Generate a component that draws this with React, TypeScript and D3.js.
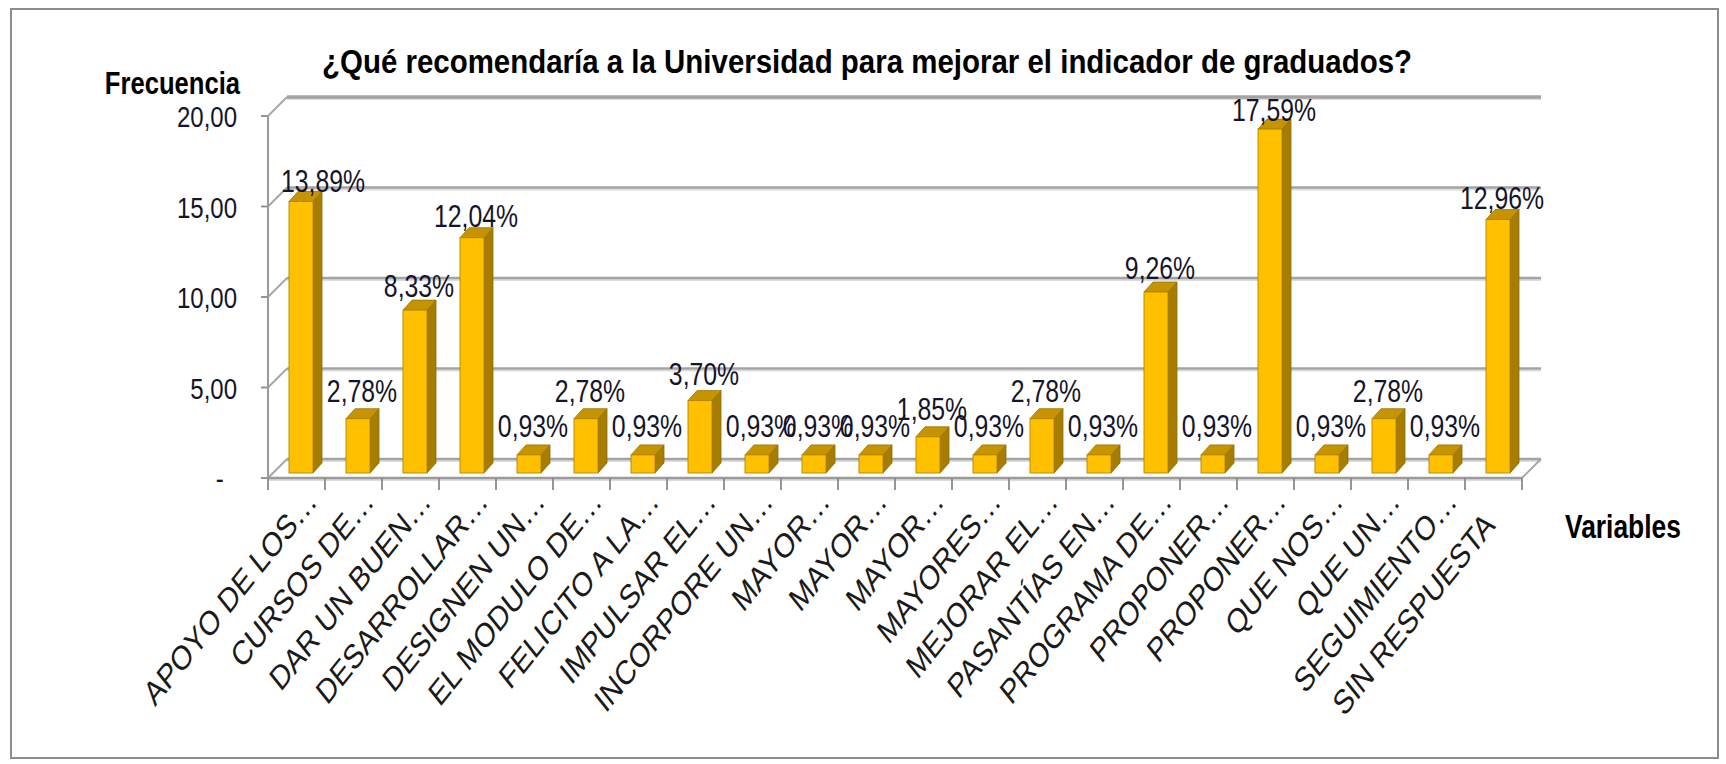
import React from 'react';
import * as d3 from 'd3';

const title = '¿Qué recomendaría a la Universidad para mejorar el indicador de graduados?';
const yAxisTitle = 'Frecuencia';
const xAxisTitle = 'Variables';

const categories = [
  'APOYO DE LOS…', 'CURSOS DE…', 'DAR UN BUEN…', 'DESARROLLAR…', 'DESIGNEN UN…',
  'EL MODULO DE…', 'FELICITO A LA…', 'IMPULSAR EL…', 'INCORPORE UN…', 'MAYOR…',
  'MAYOR…', 'MAYOR…', 'MAYORES…', 'MEJORAR EL…', 'PASANTÍAS EN…', 'PROGRAMA DE…',
  'PROPONER…', 'PROPONER…', 'QUE NOS…', 'QUE UN…', 'SEGUIMIENTO…', 'SIN RESPUESTA',
];
const frequencies = [15, 3, 9, 13, 1, 3, 1, 4, 1, 1, 1, 2, 1, 3, 1, 10, 1, 19, 1, 3, 1, 14];
const percentLabels = [
  '13,89%', '2,78%', '8,33%', '12,04%', '0,93%', '2,78%', '0,93%', '3,70%', '0,93%', '0,93%',
  '0,93%', '1,85%', '0,93%', '2,78%', '0,93%', '9,26%', '0,93%', '17,59%', '0,93%', '2,78%',
  '0,93%', '12,96%',
];
const yTicks = [0, 5, 10, 15, 20];
const yTickLabels = ['-  ', '5,00', '10,00', '15,00', '20,00'];

// layout
const W = 1726, H = 764;
const X0 = 268, X1 = 1522, Y0 = 478, YTOP = 116;
const DX = 19, DY = -19;
const K = 0.8; // horizontal compression of text
const FONT = "'Liberation Sans', Arial, 'DejaVu Sans', sans-serif";
const TXT = '#14142a';

const charW: Record<string, number> = { ',': 0.278, '%': 0.889 };
const textW = (s: string, f: number) =>
  s.split('').reduce((a, c) => a + (charW[c] ?? 0.556), 0) * f * K;

export default function App() {
  const x = d3.scaleBand<number>().domain(d3.range(categories.length)).range([X0, X1]).padding(0);
  const y = d3.scaleLinear().domain([0, 20]).range([Y0, YTOP]);
  const step = x.step();
  const barW = 24, barOff = 21, bdx = 9, bdy = -10, barBase = 5;
  const gridColor = '#a3a3a3';

  return (
    <svg width={W} height={H} style={{ position: 'absolute', left: 0, top: 0, background: '#fff' }}>
      <rect x={0} y={0} width={W} height={H} fill="#fff" />
      <rect x={11} y={9} width={1707} height={749} fill="none" stroke="#8c8c8c" strokeWidth={2} />

      {/* back wall gridlines + side wall diagonals */}
      {yTicks.map((t) => (
        <g key={'g' + t}>
          <line x1={X0 + DX} y1={y(t) + DY + 2} x2={X1 + DX} y2={y(t) + DY + 2} stroke="#dcdcdc" strokeWidth={2} />
          <line x1={X0 + DX} y1={y(t) + DY} x2={X1 + DX} y2={y(t) + DY} stroke={gridColor} strokeWidth={t === 20 ? 3.5 : 2.5} />
          <line x1={X0} y1={y(t)} x2={X0 + DX} y2={y(t) + DY} stroke={gridColor} strokeWidth={1.8} />
          <line x1={X0 - 7} y1={y(t)} x2={X0} y2={y(t)} stroke="#8a8a8a" strokeWidth={1.8} />
        </g>
      ))}
      {/* floor */}
      <line x1={X0} y1={Y0 + 2} x2={X1} y2={Y0 + 2} stroke="#dcdcdc" strokeWidth={2} />
      <line x1={X0} y1={Y0} x2={X1} y2={Y0} stroke="#9a9a9a" strokeWidth={2.5} />
      <line x1={X1} y1={Y0} x2={X1 + DX} y2={Y0 + DY} stroke={gridColor} strokeWidth={1.8} />
      {/* y axis */}
      <line x1={X0} y1={y(20)} x2={X0} y2={Y0} stroke="#9a9a9a" strokeWidth={2} />
      {/* x ticks */}
      {d3.range(categories.length + 1).map((i) => (
        <line key={'xt' + i} x1={X0 + i * step} y1={Y0} x2={X0 + i * step} y2={Y0 + 12} stroke="#8a8a8a" strokeWidth={1.8} />
      ))}

      {/* bars */}
      {frequencies.map((v, i) => {
        const bx = (x(i) as number) + barOff;
        const yt = y(v) - barBase;
        const yb = Y0 - barBase;
        return (
          <g key={'b' + i}>
            <polygon
              points={`${bx + barW},${yt} ${bx + barW + bdx},${yt + bdy} ${bx + barW + bdx},${yb + bdy} ${bx + barW},${yb}`}
              fill="#a67d00" stroke="#8f6b00" strokeWidth={0.8}
            />
            <polygon
              points={`${bx},${yt} ${bx + bdx},${yt + bdy} ${bx + barW + bdx},${yt + bdy} ${bx + barW},${yt}`}
              fill="#c59400" stroke="#9c7500" strokeWidth={0.8}
            />
            <rect x={bx} y={yt} width={barW} height={yb - yt} fill="#ffc000" stroke="#b38600" strokeWidth={0.9} />
          </g>
        );
      })}

      {/* value labels */}
      {frequencies.map((v, i) => {
        const f = 31;
        let cx = (x(i) as number) + barOff + barW / 2 + 4;
        const w = textW(percentLabels[i], f);
        if (cx - w / 2 < X0 + 13) cx = X0 + 13 + w / 2;
        const ly = Y0 - 23 - (Y0 - y(v)) * 0.97;
        return (
          <text key={'v' + i} transform={`translate(${cx},${ly}) scale(${K},1)`} textAnchor="middle"
            fontFamily={FONT} fontSize={f} fill={TXT}>
            {percentLabels[i]}
          </text>
        );
      })}

      {/* y tick labels */}
      {yTicks.map((t, i) => (
        <text key={'yl' + i} transform={`translate(237,${y(t) + 11}) scale(${K},1)`} textAnchor="end"
          fontFamily={FONT} fontSize={30} fill={TXT} style={{ whiteSpace: 'pre' }}>
          {yTickLabels[i]}
        </text>
      ))}

      {/* category labels */}
      {categories.map((c, i) => {
        const ax = (x(i) as number) + step / 2 + 22;
        const truncated = c.endsWith('…');
        return (
          <text key={'c' + i} transform={`translate(${ax},503) scale(${K},1) rotate(-45)`} textAnchor="end"
            fontFamily={FONT} fontSize={34} fill="#1a1a1a">
            {c}
            {!truncated && <tspan fill="none">…</tspan>}
          </text>
        );
      })}

      {/* titles */}
      <text transform={`translate(867,73) scale(${K},1)`} textAnchor="middle" fontFamily={FONT} fontWeight="bold"
        fontSize={33} fill="#000" textLength={1090 / K} lengthAdjust="spacingAndGlyphs">
        {title}
      </text>
      <text transform={`translate(240,94) scale(${K},1)`} textAnchor="end" fontFamily={FONT} fontWeight="bold"
        fontSize={32} fill="#000">
        {yAxisTitle}
      </text>
      <text transform={`translate(1565,538) scale(${K},1)`} textAnchor="start" fontFamily={FONT} fontWeight="bold"
        fontSize={33} fill="#000">
        {xAxisTitle}
      </text>
    </svg>
  );
}
